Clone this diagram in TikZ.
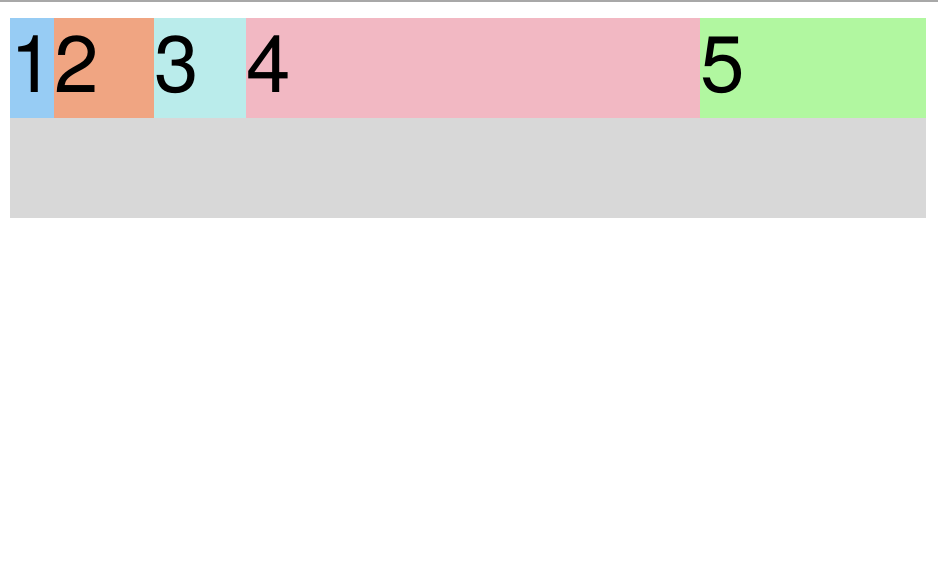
\documentclass[tikz,border=0pt]{standalone}
\usepackage{fontspec}
\setmainfont{TeX Gyre Heros}
\definecolor{cblue}{HTML}{97CCF4}
\definecolor{corange}{HTML}{F0A582}
\definecolor{ccyan}{HTML}{BAECEB}
\definecolor{cpink}{HTML}{F2B8C3}
\definecolor{cgreen}{HTML}{B1F7A0}
\definecolor{cgray}{HTML}{D8D8D8}
\definecolor{cline}{HTML}{A8A8A8}
\tikzset{
  cell/.style={draw=none, inner sep=0pt, outer sep=0pt},
  digit/.style={inner sep=0pt, outer sep=0pt, anchor=base west, font=\fontsize{80}{80}\selectfont}
}
\begin{document}
\begin{tikzpicture}[x=1pt,y=-1pt]
\useasboundingbox[fill=white] (0,0) rectangle (938,562);
\fill[cline] (0,0) rectangle (938,2);
\fill[cgray] (10,18) rectangle (926,218);
\fill[cblue] (10,18) rectangle (54,118);
\fill[corange] (54,18) rectangle (154,118);
\fill[ccyan] (154,18) rectangle (246,118);
\fill[cpink] (246,18) rectangle (700,118);
\fill[cgreen] (700,18) rectangle (926,118);
\node[digit] (d1) at (10,92) {1};
\node[digit] (d2) at (54,92) {2};
\node[digit] (d3) at (154,92) {3};
\node[digit] (d4) at (246,92) {4};
\node[digit] (d5) at (700,92) {5};
\end{tikzpicture}
\end{document}
